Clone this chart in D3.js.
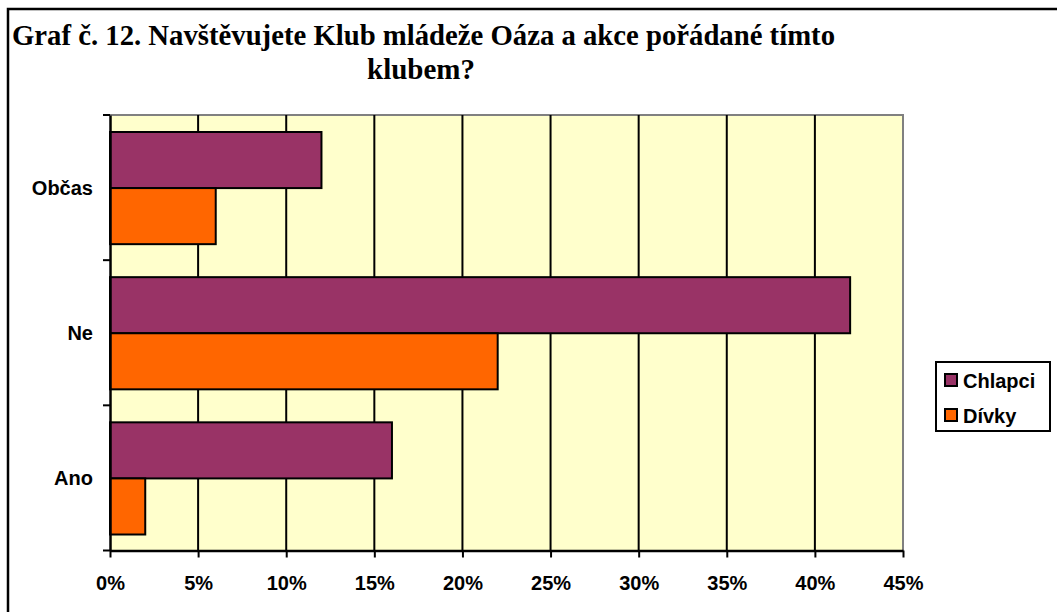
<!DOCTYPE html>
<html><head><meta charset="utf-8">
<script src="https://cdn.jsdelivr.net/npm/d3@7"></script>
<style>body{margin:0;background:#fff}svg{display:block}</style>
</head><body>
<svg id="c" width="1057" height="612"></svg>
<script>
const categories = ["Občas", "Ne", "Ano"];
const seriesNames = ["Chlapci", "Dívky"];
const chlapci = [12, 42, 16];
const divky = [6, 22, 2];
const xTicks = [0, 5, 10, 15, 20, 25, 30, 35, 40, 45];
const colors = ["#993366", "#FF6600"];

const svg = d3.select("#c");
const L = 110, R = 903, T = 115, B = 550.5;

// outer frame
svg.append("rect").attr("x", 8).attr("y", 9).attr("width", 1070).attr("height", 620)
  .attr("fill", "none").attr("stroke", "#000").attr("stroke-width", 2.5);

// title
const tf = "'Liberation Serif','Times New Roman',serif";
const t1 = svg.append("text").attr("x", 12).attr("y", 45).attr("font-family", tf).attr("font-weight", "bold")
  .attr("font-size", 29).text("Graf č. 12. Navštěvujete Klub mládeže Oáza a akce pořádané tímto");
const w1 = t1.node().getComputedTextLength();
if (Math.abs(w1 - 823) > 4) t1.attr("textLength", 823).attr("lengthAdjust", "spacingAndGlyphs");
svg.append("text").attr("x", 421).attr("y", 79).attr("text-anchor", "middle").attr("font-family", tf)
  .attr("font-weight", "bold").attr("font-size", 29).text("klubem?");

const x = d3.scaleLinear().domain([0, 45]).range([L, R]);
const y = d3.scaleBand().domain(categories).range([T, B]);
const inner = d3.scaleBand().domain(seriesNames).range([17, y.bandwidth() - 16]);

// plot background
svg.append("rect").attr("x", L).attr("y", T).attr("width", R - L).attr("height", B - T).attr("fill", "#FFFFCC");
// gray border top/right
svg.append("path").attr("d", `M${L},${T}H${R}V${B}`).attr("fill", "none").attr("stroke", "#808080").attr("stroke-width", 2);

// gridlines
svg.append("g").selectAll("line").data(xTicks.slice(1, -1)).join("line")
  .attr("x1", d => x(d)).attr("x2", d => x(d)).attr("y1", T).attr("y2", B)
  .attr("stroke", "#000").attr("stroke-width", 2);

// bars
const data = categories.map((c, i) => ({c, vals: [chlapci[i], divky[i]]}));
const g = svg.append("g");
data.forEach(d => {
  d.vals.forEach((v, j) => {
    g.append("rect").attr("x", x(0)).attr("y", y(d.c) + inner(seriesNames[j]))
      .attr("width", x(v) - x(0)).attr("height", inner.bandwidth())
      .attr("fill", colors[j]).attr("stroke", "#000").attr("stroke-width", 2);
  });
});

const lf = "'Liberation Sans',Arial,sans-serif";
const fs = 20;
// x axis
const xa = svg.append("g").attr("transform", `translate(0,${B})`)
  .call(d3.axisBottom(x).tickValues(xTicks).tickFormat(d => d + "%").tickSize(7).tickSizeOuter(0));
xa.select(".domain").attr("stroke-width", 2.5).attr("stroke", "#000");
xa.selectAll(".tick line").attr("stroke-width", 2);
xa.selectAll("text").attr("y", 39.5).attr("dy", null).attr("font-family", lf).attr("font-weight", "bold")
  .attr("font-size", fs).attr("fill", "#000");

// y axis: labels and boundary ticks
const ya = svg.append("g").attr("transform", `translate(${L},0)`)
  .call(d3.axisLeft(y).tickSize(0).tickPadding(17));
ya.select(".domain").attr("stroke-width", 2.5).attr("stroke", "#000");
ya.selectAll("text").attr("dy", "0.35em").attr("font-family", lf).attr("font-weight", "bold")
  .attr("font-size", fs).attr("fill", "#000");
const bounds = categories.map(c => y(c)).concat([B]);
svg.append("g").selectAll("line").data(bounds).join("line")
  .attr("x1", L - 7).attr("x2", L).attr("y1", d => d).attr("y2", d => d)
  .attr("stroke", "#000").attr("stroke-width", 2);

// legend
const lg = svg.append("g");
lg.append("rect").attr("x", 936).attr("y", 362).attr("width", 114).attr("height", 69)
  .attr("fill", "#fff").attr("stroke", "#000").attr("stroke-width", 2);
seriesNames.forEach((s, i) => {
  const yy = 374 + i * 35;
  lg.append("rect").attr("x", 945).attr("y", yy).attr("width", 12).attr("height", 12)
    .attr("fill", colors[i]).attr("stroke", "#000").attr("stroke-width", 2);
  lg.append("text").attr("x", 963).attr("y", yy + 13.5).attr("font-family", lf).attr("font-weight", "bold")
    .attr("font-size", fs).text(s);
});
</script>
</body></html>
